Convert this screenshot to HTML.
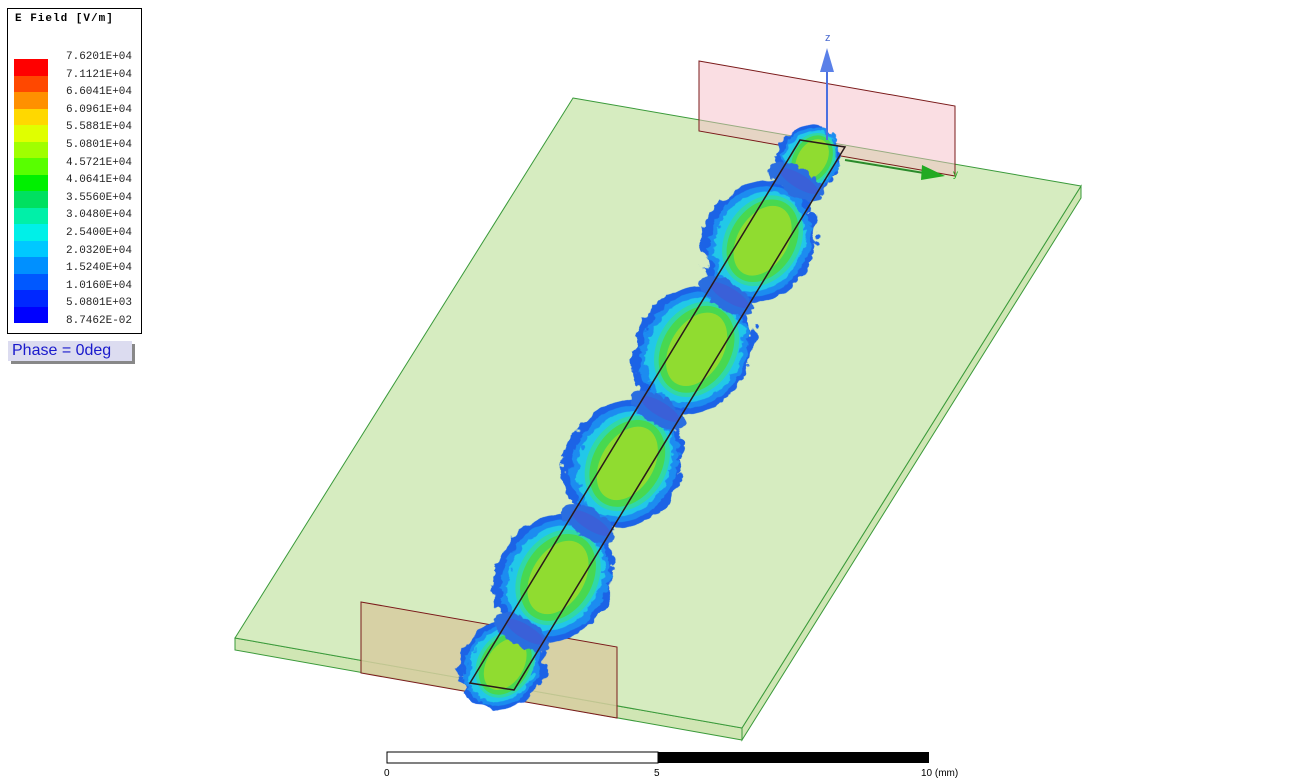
<!DOCTYPE html>
<html><head><meta charset="utf-8"><style>
body{margin:0;background:#fff;width:1316px;height:780px;overflow:hidden;font-family:"Liberation Mono",monospace}
</style></head><body>
<svg width="1316" height="780" viewBox="0 0 1316 780" style="position:absolute;left:0;top:0">
<defs>
<filter id="rough"><feTurbulence baseFrequency="0.06" numOctaves="2" seed="3"/><feDisplacementMap in="SourceGraphic" scale="12"/></filter>
<filter id="rough2"><feTurbulence baseFrequency="0.08" numOctaves="2" seed="7"/><feDisplacementMap in="SourceGraphic" scale="8"/></filter>
</defs>
<g>
<polygon points="235,638 742,728 742,740 235,650" fill="#d0e6b4" stroke="#3a9a3a" stroke-width="1"/>
<polygon points="742,728 1081,186 1081,198 742,740" fill="#d0e6b4" stroke="#3a9a3a" stroke-width="1"/>
<polygon points="573,98 1081,186 742,728 235,638" fill="#d6ecc0" stroke="#3a9a3a" stroke-width="1"/>
</g>
<polygon points="699,61 955,106 955,176 699,131" fill="rgba(245,190,200,0.5)" stroke="#7a1a1a" stroke-width="1"/>
<polygon points="361,602 617,647 617,718 361,673" fill="rgba(215,205,160,0.85)" stroke="#7a1a1a" stroke-width="1"/>
<g id="blobs"></g>
<polygon points="800,140 845,147 514,690 470,683" fill="none" stroke="#2a1a1a" stroke-width="1.5"/>
<g>
<line x1="827" y1="140" x2="827" y2="62" stroke="#4a70e0" stroke-width="2"/>
<polygon points="827,48 820,72 834,72" fill="#5a80e8"/>
<text x="825" y="41" font-size="11" fill="#4a6ad0" font-family="Liberation Sans,sans-serif">z</text>
</g>
<g>
<line x1="845" y1="160" x2="930" y2="174" stroke="#2a8a2a" stroke-width="2"/>
<polygon points="945,176 922,165 921,180" fill="#22aa22"/>
<text x="953" y="177" font-size="10" fill="#22aa22" font-family="Liberation Sans,sans-serif">y</text>
</g>
<g>
<rect x="387" y="752" width="271" height="11" fill="#fff" stroke="#000"/>
<rect x="658" y="752" width="271" height="11" fill="#000"/>
<text x="384" y="776" font-size="10" font-family="Liberation Sans,sans-serif">0</text>
<text x="654" y="776" font-size="10" font-family="Liberation Sans,sans-serif">5</text>
<text x="921" y="776" font-size="10" font-family="Liberation Sans,sans-serif">10 (mm)</text>
</g>
</svg>
<div style="position:absolute;left:7px;top:8px;width:133px;height:324px;border:1px solid #000;background:#fff">
<div style="position:absolute;left:7px;top:4px;font-size:11px;font-weight:bold;letter-spacing:1px">E Field [V/m]</div>
<div id="leg"></div>
</div>
<div style="position:absolute;left:8px;top:341px;width:120px;height:20px;background:#dcdcf0;box-shadow:3px 3px 0 #888;color:#1a1acc;font-family:'Liberation Sans',sans-serif;font-size:16px;line-height:20px;padding-left:4px">Phase = 0deg</div>
<script>
const legendValues=["7.6201E+04","7.1121E+04","6.6041E+04","6.0961E+04","5.5881E+04","5.0801E+04","4.5721E+04","4.0641E+04","3.5560E+04","3.0480E+04","2.5400E+04","2.0320E+04","1.5240E+04","1.0160E+04","5.0801E+03","8.7462E-02"];
const legendColors=["#ff0000","#ff4800","#ff9000","#ffd800","#e0ff00","#a0ff00","#58ff00","#00f000","#00e060","#00f0a8","#00f0e8","#00c8ff","#0090ff","#0058ff","#0028ff","#0000ff"];
// blob positions along the trace (0=back port, 1=front port) and relative size
const blobT=[0.03,0.18,0.38,0.59,0.80,0.96];
const blobSize=[0.55,0.95,1.0,1.0,1.0,0.7];
const neckT=[0.07,0.28,0.49,0.70,0.90];
const leg=document.getElementById('leg');
legendValues.forEach((v,i)=>{
 const s=document.createElement('div');
 
 
 s.style.cssText=`position:absolute;left:6px;top:${50+i*16.5}px;width:34px;height:16.5px;background:${legendColors[i]}`;
 leg.appendChild(s);
 const t=document.createElement('div');
 
 
 t.textContent=v;
 t.style.cssText=`position:absolute;left:58px;top:${42+i*17.6}px;font-size:11px;color:#222`;
 leg.appendChild(t);
});
const NS='http://www.w3.org/2000/svg';
const g=document.getElementById('blobs');
const x0=822,y0=143,x1=492,y1=686;
const ang=Math.atan2(y1-y0,x1-x0)*180/Math.PI;
const layers=[["#1e64e6",1.0,'rough'],["#1a8cf0",0.82,'rough2'],["#20c8e8",0.64,'rough2'],["#30d8a8",0.48,''],["#48d850",0.34,''],["#90dc30",0.12,'']];
function ell(cx,cy,rx,ry,c,f){
 const e=document.createElementNS(NS,'ellipse');
 
 
 e.setAttribute('cx',cx);e.setAttribute('cy',cy);
 e.setAttribute('rx',rx);e.setAttribute('ry',ry);
 e.setAttribute('fill',c);
 e.setAttribute('transform',`rotate(${ang} ${cx} ${cy})`);
 if(f)e.setAttribute('filter',`url(#${f})`);
 g.appendChild(e);
}
blobT.forEach((t,i)=>{
 const cx=x0+(x1-x0)*t, cy=y0+(y1-y0)*t, k=blobSize[i];
 layers.forEach(([c,f,fl])=>{
  ell(cx,cy,66*k*(0.55+0.45*f),(22+36*f)*k,c,fl);
 });
});
neckT.forEach(t=>{
 const cx=x0+(x1-x0)*t, cy=y0+(y1-y0)*t;
 ell(cx,cy,14,30,"#2a6ee0",'rough2');
 ell(cx,cy,7,22,"#3a60d8",'');
});
</script>
</body></html>
